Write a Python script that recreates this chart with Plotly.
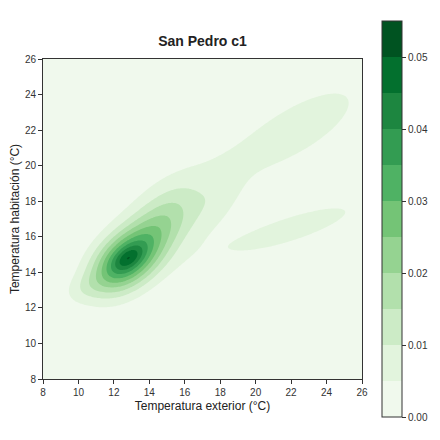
import numpy as np
import plotly.graph_objects as go

# Kernel-density components (centre, orientation, spreads, peak height)
comp_cx    = [12.6, 12.8, 14.6, 10.3, 17.9, 14.8, 22.4, 22.05]
comp_cy    = [14.6, 14.8, 16.6, 13.1, 18.0, 16.8, 22.1, 16.45]
comp_angle = [40, 35, 48, 25, 60, 45, 31, 18]
comp_long  = [1.5, 0.6, 1.8, 0.9, 1.4, 3.5, 3.6, 3.5]
comp_short = [0.95, 0.35, 1.0, 0.55, 0.8, 1.8, 1.3, 0.7]
comp_amp   = [0.034, 0.008, 0.013, 0.004, 0.0035, 0.0055, 0.0075, 0.0075]

x_ticks = [8, 10, 12, 14, 16, 18, 20, 22, 24, 26]
y_ticks = [8, 10, 12, 14, 16, 18, 20, 22, 24, 26]
level_step = 0.005
cbar_ticks = [0.00, 0.01, 0.02, 0.03, 0.04, 0.05]

greens = [(0.0, (247, 252, 245)), (0.125, (229, 245, 224)), (0.25, (199, 233, 192)),
          (0.375, (161, 217, 155)), (0.5, (116, 196, 118)), (0.625, (65, 171, 93)),
          (0.75, (35, 139, 69)), (0.875, (0, 109, 44)), (1.0, (0, 68, 27))]


def cmap(t):
    for (t0, c0), (t1, c1) in zip(greens[:-1], greens[1:]):
        if t <= t1:
            f = (t - t0) / (t1 - t0)
            return "rgb(%d,%d,%d)" % tuple(round(a + (b - a) * f) for a, b in zip(c0, c1))
    return "rgb(%d,%d,%d)" % greens[-1][1]


nb = 11
band_colors = [cmap((k + 0.5) / nb) for k in range(nb)]

gx = np.linspace(8, 26, 241)
gy = np.linspace(8, 26, 241)
X, Y = np.meshgrid(gx, gy)
Z = np.zeros_like(X)
for cx, cy, ang, sl, ss, a in zip(comp_cx, comp_cy, comp_angle, comp_long, comp_short, comp_amp):
    th = np.deg2rad(ang)
    dx, dy = X - cx, Y - cy
    u = dx * np.cos(th) + dy * np.sin(th)
    v = -dx * np.sin(th) + dy * np.cos(th)
    Z += a * np.exp(-0.5 * ((u / sl) ** 2 + (v / ss) ** 2))
Z = np.minimum(Z, level_step * nb * 0.999)

contour_scale = [[k / (nb - 1), band_colors[k]] for k in range(nb)]
step_scale = []
for k in range(nb):
    step_scale.append([k / nb, band_colors[k]])
    step_scale.append([(k + 1) / nb, band_colors[k]])

# figure coordinates (the page body adds an 8px offset)
W = H = 432
L, R, T, B = 35, 354, 51, 371
pw, ph = R - L, B - T
cb_left, cb_top, cb_bottom = 374, 13, 409

fig = go.Figure()
fig.add_trace(go.Contour(
    x=gx, y=gy, z=Z,
    contours=dict(start=level_step, end=level_step * (nb - 1), size=level_step, coloring="fill"),
    line=dict(width=0),
    colorscale=contour_scale,
    showscale=False,
    hoverinfo="skip",
))
fig.add_trace(go.Scatter(
    x=[-100], y=[-100], mode="markers",
    marker=dict(color=[0], colorscale=step_scale, cmin=0, cmax=level_step * nb, showscale=True,
                colorbar=dict(
                    thickness=20, len=(cb_bottom - cb_top) / ph, lenmode="fraction",
                    x=(cb_left - L) / pw, xref="paper", xanchor="left", xpad=0,
                    y=(B - cb_top) / ph, yref="paper", yanchor="top", ypad=0,
                    outlinewidth=1, outlinecolor="#333333",
                    tickvals=cbar_ticks, tickformat=".2f", ticks="outside", ticklen=4,
                    tickcolor="#333333", tickfont=dict(size=10, color="#333333"),
                )),
    showlegend=False, hoverinfo="skip",
))

axis_common = dict(
    showgrid=False, zeroline=False, showline=True, linecolor="#333333", linewidth=1,
    mirror=True, ticks="outside", ticklen=4, tickcolor="#333333", automargin=False,
    tickfont=dict(size=10, color="#333333"),
)
fig.update_xaxes(range=[8, 26], tickvals=x_ticks, title=dict(text="Temperatura exterior (°C)", font=dict(size=12, color="#222222"), standoff=4), **axis_common)
fig.update_yaxes(range=[8, 26], tickvals=y_ticks, title=dict(text="Temperatura habitación (°C)", font=dict(size=12, color="#222222"), standoff=4), **axis_common)

fig.update_layout(
    width=W, height=H,
    margin=dict(l=L, r=W - R, t=T, b=H - B, autoexpand=False),
    paper_bgcolor="white", plot_bgcolor=band_colors[0],
    font=dict(family="Liberation Sans, Arial, sans-serif"),
    title=dict(text="<b>San Pedro c1</b>", x=(L + R) / 2 / W, xanchor="center", y=1 - 33 / H, yanchor="middle",
               font=dict(size=14, color="#222222")),
    showlegend=False,
)
fig.write_html("out.html")
